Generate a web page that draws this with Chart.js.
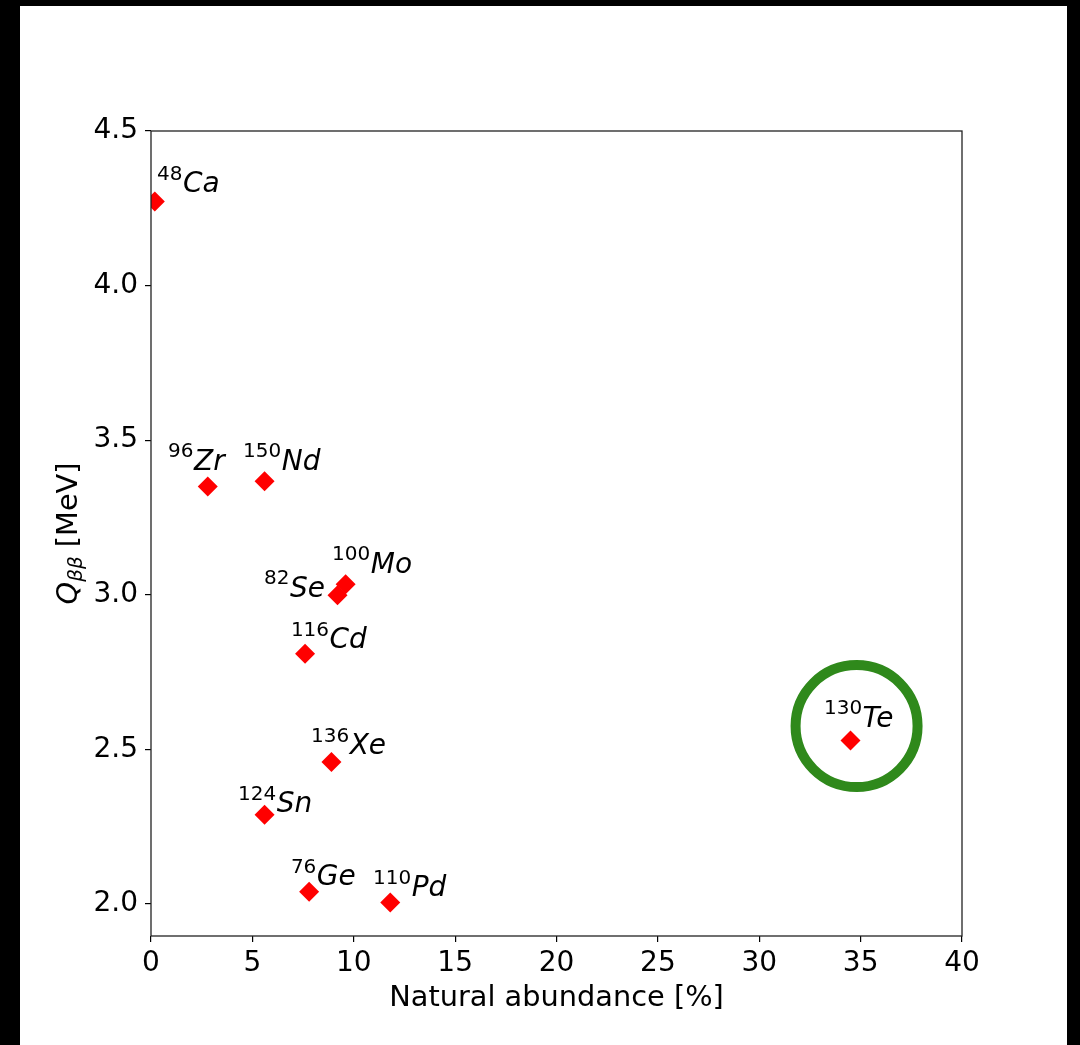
<!DOCTYPE html>
<html lang="en">

<head>
	<meta charset="UTF-8">
	<title>Q-value vs natural abundance</title>
	<script src="https://cdn.jsdelivr.net/npm/chart.js"></script>
	<style>
		html, body { margin: 0; padding: 0; background: #000; }
		#sheet { position: absolute; left: 20px; top: 6px; width: 1047px; height: 1039px; background: #fff; }
		#qChart { position: absolute; left: 0; top: 0; }
	</style>
</head>

<body>
	<div id="sheet"></div>
	<canvas id="qChart" width="1080" height="1045"></canvas>
	<script>
	// double beta decay candidates
	const massNumbers = ['48', '76', '82', '96', '100', '110', '116', '124', '130', '136', '150'];
	const elements = ['Ca', 'Ge', 'Se', 'Zr', 'Mo', 'Pd', 'Cd', 'Sn', 'Te', 'Xe', 'Nd'];
	const abundance = [0.187, 7.8, 9.2, 2.8, 9.6, 11.8, 7.6, 5.6, 34.5, 8.9, 5.6];      // %
	const qValue = [4.272, 2.039, 2.998, 3.350, 3.034, 2.004, 2.809, 2.288, 2.528, 2.459, 3.367]; // MeV

	// where each label's text starts (data units)
	const labelX = [0.30, 6.90, 5.57, 0.84, 8.93, 10.95, 6.90, 4.29, 33.19, 7.89, 4.54];
	const labelY = [4.302, 2.060, 2.993, 3.405, 3.071, 2.025, 2.827, 2.296, 2.573, 2.484, 3.405];

	// highlighted isotope ring
	const ringCenter = [{ x: 34.8, y: 2.575 }];

	const xTicks = [0, 5, 10, 15, 20, 25, 30, 35, 40];
	const yTicks = [2.0, 2.5, 3.0, 3.5, 4.0, 4.5];

	const FONT = "'DejaVu Sans', sans-serif";

	const framePlugin = {
		id: 'frame',
		afterDraw(chart) {
			const { ctx, chartArea: a } = chart;
			ctx.save();
			ctx.strokeStyle = '#222';
			ctx.lineWidth = 1.3;
			ctx.strokeRect(a.left, a.top, a.right - a.left, a.bottom - a.top);
			ctx.restore();
		}
	};

	const labelPlugin = {
		id: 'isotopeLabels',
		afterDatasetsDraw(chart) {
			const { ctx, scales } = chart;
			ctx.save();
			ctx.fillStyle = '#000';
			ctx.textBaseline = 'alphabetic';
			ctx.textAlign = 'left';
			for(let i = 0; i < elements.length; i++) {
				const x = scales.x.getPixelForValue(labelX[i]);
				const y = scales.y.getPixelForValue(labelY[i]);
				ctx.font = `20px ${FONT}`;
				ctx.fillText(massNumbers[i], x, y - 12.5);
				const w = ctx.measureText(massNumbers[i]).width;
				ctx.font = `oblique 28px ${FONT}`;
				ctx.fillText(elements[i], x + w + 0.5, y);
			}
			ctx.restore();
		}
	};

	const titlePlugin = {
		id: 'axisTitles',
		afterDraw(chart) {
			const { ctx, chartArea: a } = chart;
			ctx.save();
			ctx.fillStyle = '#000';
			ctx.textBaseline = 'alphabetic';
			// x title
			ctx.font = `28.8px ${FONT}`;
			ctx.textAlign = 'center';
			ctx.fillText('Natural abundance [%]', (a.left + a.right) / 2, 1006);
			// y title, rotated, with subscript
			ctx.textAlign = 'left';
			const parts = [
				{ t: 'Q', f: `oblique 28.8px ${FONT}`, dy: 0 },
				{ t: 'ββ', f: `oblique 20px ${FONT}`, dy: 5 },
				{ t: ' [MeV]', f: `28.8px ${FONT}`, dy: 0 }
			];
			let total = 0;
			parts.forEach(p => { ctx.font = p.f; p.w = ctx.measureText(p.t).width; total += p.w; });
			ctx.translate(77, (a.top + a.bottom) / 2);
			ctx.rotate(-Math.PI / 2);
			let cx = -total / 2;
			parts.forEach(p => { ctx.font = p.f; ctx.fillText(p.t, cx, p.dy); cx += p.w; });
			ctx.restore();
		}
	};

	const tickGrid = {
		display: true,
		drawOnChartArea: false,
		drawTicks: true,
		tickLength: 6,
		color: '#000',
		lineWidth: 1.2
	};

	new Chart(document.getElementById('qChart'), {
		type: 'scatter',
		data: {
			datasets: [{
				label: 'isotopes',
				data: abundance.map((a, i) => ({ x: a, y: qValue[i] })),
				pointStyle: 'rectRot',
				pointRadius: 10,
				backgroundColor: '#ff0000',
				borderColor: '#ff0000',
				borderWidth: 0,
				clip: 0
			}, {
				label: 'ring',
				data: ringCenter,
				pointStyle: 'circle',
				pointRadius: 61,
				backgroundColor: 'rgba(0,0,0,0)',
				borderColor: '#2f891b',
				borderWidth: 10,
				clip: false
			}]
		},
		options: {
			responsive: false,
			animation: false,
			events: [],
			layout: { padding: { left: 51, top: 131, right: 118, bottom: 29 } },
			plugins: { legend: { display: false }, tooltip: { enabled: false } },
			scales: {
				x: {
					type: 'linear',
					min: 0,
					max: 40,
					afterBuildTicks: s => { s.ticks = xTicks.map(v => ({ value: v })); },
					afterFit: s => { s.height = 80; },
					grid: tickGrid,
					border: { display: false },
					ticks: { color: '#000', font: { family: FONT, size: 28 }, padding: 5, maxRotation: 0, callback: v => String(v) }
				},
				y: {
					type: 'linear',
					min: 1.896,
					max: 4.5,
					afterBuildTicks: s => { s.ticks = yTicks.map(v => ({ value: v })); },
					afterFit: s => { s.width = 100; },
					grid: tickGrid,
					border: { display: false },
					ticks: { color: '#000', font: { family: FONT, size: 28 }, padding: 7, callback: v => v.toFixed(1) }
				}
			}
		},
		plugins: [framePlugin, labelPlugin, titlePlugin]
	});
	</script>
</body>

</html>
